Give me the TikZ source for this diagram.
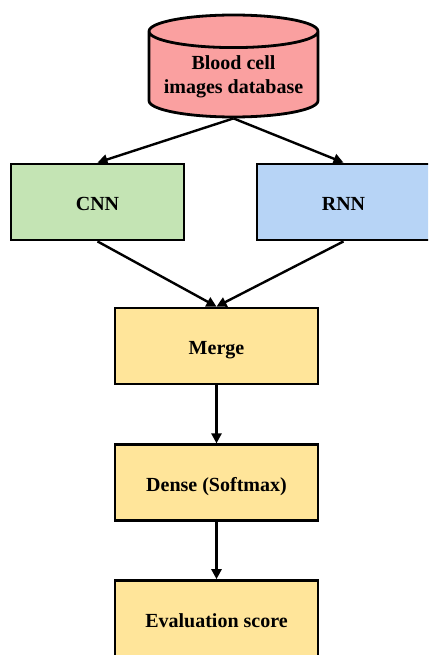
\documentclass[tikz,border=0pt]{standalone}
\usepackage{fontspec}
\setmainfont{Liberation Serif}
\usepackage{tikz}
\usetikzlibrary{positioning, shapes.geometric, arrows.meta}
\definecolor{dbred}{RGB}{250,160,160}
\definecolor{cnngreen}{RGB}{196,228,180}
\definecolor{rnnblue}{RGB}{183,212,246}
\definecolor{layeryellow}{RGB}{255,229,154}
\tikzset{
  block/.style={rectangle, draw, line width=2.8pt, minimum height=76pt, text height=17pt, text depth=0pt, align=center, font=\bfseries\fontsize{20}{24}\selectfont},
  database/.style={cylinder, shape border rotate=90, draw, line width=2.8pt, minimum width=169pt, minimum height=102pt, aspect=0.223, fill=dbred, align=center, font=\bfseries\fontsize{20}{24}\selectfont},
  arrow/.style={-{Triangle[length=10pt, width=10pt]}, line width=2.4pt},
}

\begin{document}
\begin{tikzpicture}[x=1pt, y=-1pt]
  \clip (0,0) rectangle (428,655);
  \useasboundingbox (0,0) rectangle (428,655);

  % Nodes
  \node[database, anchor=shape center] (db) at (233.5,66) {Blood cell\\images database};
  \node[block, minimum width=173pt, fill=cnngreen] (cnn) at (97.5,202) {CNN};
  \node[block, minimum width=173pt, fill=rnnblue] (rnn) at (343.5,202) {RNN};
  \node[block, minimum width=203pt, fill=layeryellow] (merge) at (216.5,346) {Merge};
  \node[block, minimum width=203pt, fill=layeryellow, below=58pt of merge] (dense) {Dense (Softmax)};
  \node[block, minimum width=203pt, fill=layeryellow, below=57pt of dense] (eval) {Evaluation score};

  % Arrows
  \draw[arrow] (db.south) -- (cnn.north);
  \draw[arrow] (db.south) -- (rnn.north);
  \draw[arrow] (cnn.south) -- (merge.north);
  \draw[arrow] (rnn.south) -- (merge.north);
  \draw[arrow] (merge) -- (dense);
  \draw[arrow] (dense) -- (eval);

\end{tikzpicture}
\end{document}
